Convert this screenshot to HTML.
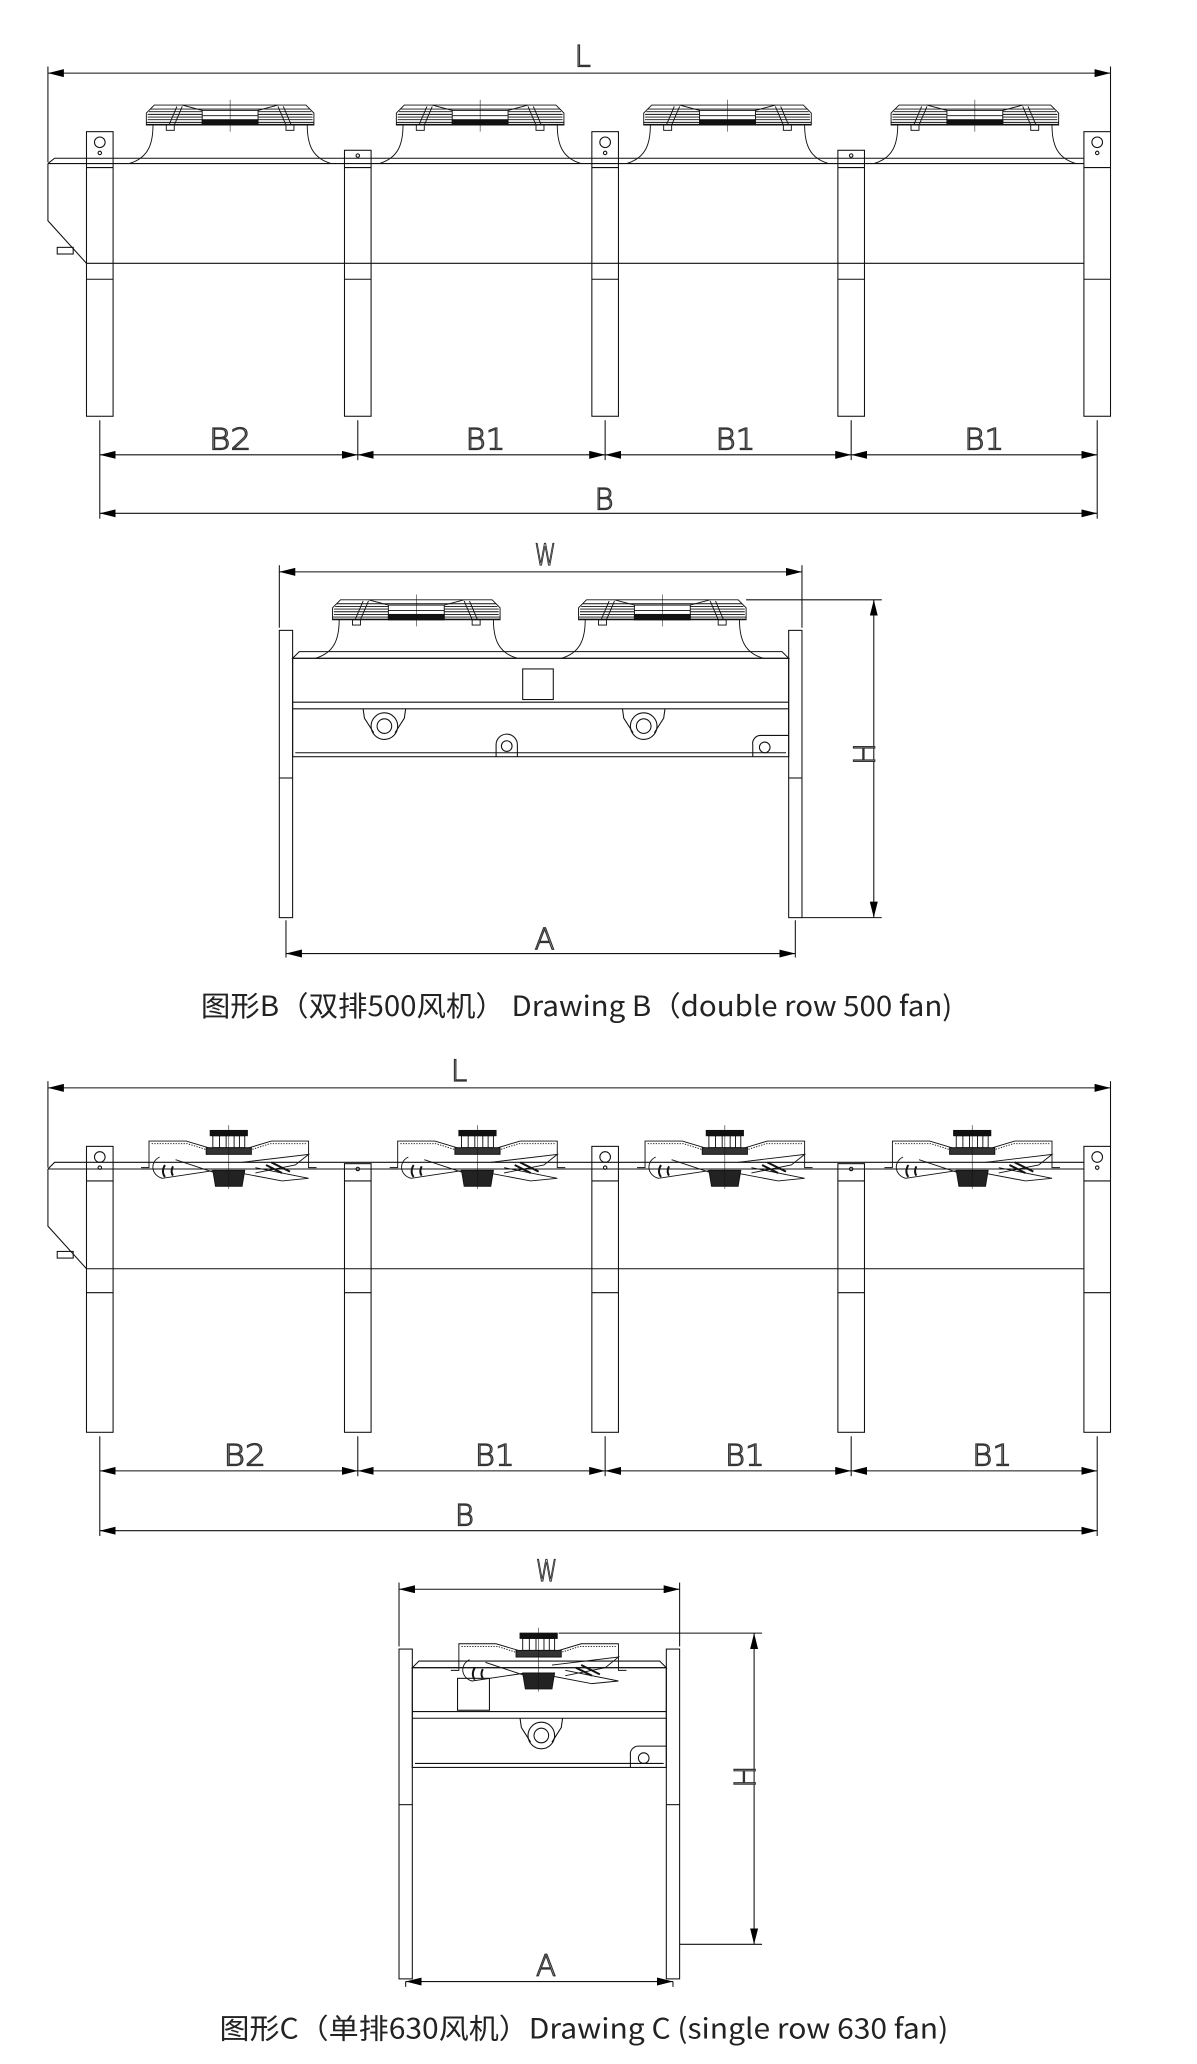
<!DOCTYPE html>
<html><head><meta charset="utf-8"><style>
html,body{margin:0;padding:0;background:#fff;}
svg{display:block;}
text{font-family:"Liberation Sans","Noto Sans CJK SC",sans-serif;fill:#222;}
.c{font-family:"DejaVu Sans","Liberation Sans",sans-serif;font-weight:200;font-size:22px;fill:#fff;stroke:#333;stroke-width:0.9;}
.cap{font-family:"Noto Sans CJK SC","Liberation Sans",sans-serif;font-size:21px;fill:#222;}
</style></head><body>
<svg width="1197" height="2064" viewBox="0 0 900 1552" xmlns="http://www.w3.org/2000/svg">
<defs>
<marker id="ar" viewBox="0 0 12 6" refX="12" refY="3" markerWidth="12" markerHeight="6" orient="auto-start-reverse" markerUnits="userSpaceOnUse"><path d="M0,0 L12,3 L0,6 z" fill="#000"/></marker>
<g id="fan5" fill="none" stroke="#111" stroke-width="0.7">
 <path d="M-63,15 L-63,6 L-57,0 L57,0 L63,6 L63,15 Z"/>
 <line x1="-60" y1="3" x2="60" y2="3"/><line x1="-61" y1="5" x2="61" y2="5"/><line x1="-62" y1="7" x2="62" y2="7"/><line x1="-62" y1="9" x2="62" y2="9"/><line x1="-62" y1="11" x2="62" y2="11"/><line x1="-63" y1="13" x2="63" y2="13"/><line x1="-63" y1="14.5" x2="63" y2="14.5"/>
 <path d="M-21,4 L-36,0 M21,4 L36,0"/>
 <rect x="-21" y="4" width="42" height="11" fill="#fff"/>
 <line x1="-21" y1="8" x2="21" y2="8"/>
 <rect x="-21" y="11" width="42" height="4" fill="#111"/>
 <path d="M-46,15 L-40,1 M-42,15 L-36,1 M46,15 L40,1 M42,15 L36,1"/>
 <rect x="-48" y="15" width="6" height="4"/><rect x="42" y="15" width="6" height="4"/>
 <line x1="0" y1="-4" x2="0" y2="20" stroke-width="0.4"/>
 <path d="M-58,15 C-58,30 -62,40 -76,44 M58,15 C58,30 62,40 76,44"/>
</g>
<g id="fan6" fill="none" stroke="#111" stroke-width="0.7">
 <path d="M-66,28 L-60,28 L-60,8 L-32,8 L-12,14 M12,14 L32,8 L60,8 L60,28 L66,28"/>
 <path d="M-58,10 L-31,10 L-12,16 M12,16 L31,10 L58,10" stroke-dasharray="1,1"/>
 <rect x="-14" y="0" width="28" height="4" fill="#111"/>
 <rect x="-12" y="4" width="24" height="9"/>
 <path d="M-7,4 v9 M-2,4 v9 M4,4 v9 M8,4 v9"/>
 <rect x="-17" y="13" width="34" height="5" fill="#333"/>
 <path d="M-52,20 C-60,24 -58,34 -50,36 L-10,30 M-40,22 L-10,32 L0,40 M10,24 L60,18 L50,26 L20,32 M20,28 L60,36 L40,38 L-2,30"/>
 <path d="M-48,26 q-3,5 0,9 M-42,27 q-2,4 0,7" stroke-width="1.5"/>
 <path d="M28,26 L40,32 M32,24 L46,31" stroke-width="1.5"/>
 <path d="M-12,30 L12,30 L10,42 L-10,42 Z" fill="#222"/>
 <line x1="0" y1="-4" x2="0" y2="44" stroke-width="0.4"/>
</g>
</defs>
<g fill="none" stroke="#111" stroke-width="0.8">
<line x1="36" y1="55" x2="835" y2="55" marker-start="url(#ar)" marker-end="url(#ar)"/>
<line x1="36" y1="50" x2="36" y2="122"/><line x1="835" y1="50" x2="835" y2="99"/>
<path d="M36,123 L41,119 L815,119 M36,123 L815,123 M36,123 L36,166 L65,198 L815,198"/>
<rect x="43" y="186" width="12" height="5"/>
<g>
 <rect x="65" y="99" width="20" height="214"/><line x1="65" y1="126" x2="85" y2="126"/><line x1="65" y1="210" x2="85" y2="210"/><circle cx="75" cy="107" r="4"/><circle cx="75" cy="115" r="1.3"/>
 <rect x="259" y="113" width="20" height="200"/><line x1="259" y1="126" x2="279" y2="126"/><line x1="259" y1="210" x2="279" y2="210"/><circle cx="269" cy="117" r="1.3"/>
 <rect x="445" y="99" width="20" height="214"/><line x1="445" y1="126" x2="465" y2="126"/><line x1="445" y1="210" x2="465" y2="210"/><circle cx="455" cy="107" r="4"/><circle cx="455" cy="115" r="1.3"/>
 <rect x="630" y="113" width="20" height="200"/><line x1="630" y1="126" x2="650" y2="126"/><line x1="630" y1="210" x2="650" y2="210"/><circle cx="640" cy="117" r="1.3"/>
 <rect x="815" y="99" width="20" height="214"/><line x1="815" y1="126" x2="835" y2="126"/><line x1="815" y1="210" x2="835" y2="210"/><circle cx="825" cy="107" r="4"/><circle cx="825" cy="115" r="1.3"/>
</g>
<use href="#fan5" x="173" y="79"/><use href="#fan5" x="361" y="79"/><use href="#fan5" x="547" y="79"/><use href="#fan5" x="733" y="79"/>
<line x1="75" y1="316" x2="75" y2="390"/><line x1="269" y1="316" x2="269" y2="346"/><line x1="455" y1="316" x2="455" y2="346"/><line x1="640" y1="316" x2="640" y2="346"/><line x1="825" y1="316" x2="825" y2="390"/>
<line x1="75" y1="342" x2="269" y2="342" marker-start="url(#ar)" marker-end="url(#ar)"/>
<line x1="269" y1="342" x2="455" y2="342" marker-start="url(#ar)" marker-end="url(#ar)"/>
<line x1="455" y1="342" x2="640" y2="342" marker-start="url(#ar)" marker-end="url(#ar)"/>
<line x1="640" y1="342" x2="825" y2="342" marker-start="url(#ar)" marker-end="url(#ar)"/>
<line x1="75" y1="386" x2="825" y2="386" marker-start="url(#ar)" marker-end="url(#ar)"/>

<line x1="210" y1="430" x2="603" y2="430" marker-start="url(#ar)" marker-end="url(#ar)"/>
<line x1="210" y1="425" x2="210" y2="472"/><line x1="603" y1="425" x2="603" y2="472"/>
<rect x="210" y="474" width="10" height="216"/><line x1="210" y1="585" x2="220" y2="585"/>
<rect x="593" y="474" width="10" height="216"/><line x1="593" y1="585" x2="603" y2="585"/>
<path d="M220,495 L225,490 L588,490 L593,495 Z"/>
<rect x="220" y="495" width="373" height="74"/>
<line x1="220" y1="528" x2="593" y2="528"/><line x1="220" y1="533" x2="593" y2="533"/><line x1="222" y1="566" x2="591" y2="566"/>
<rect x="393" y="503" width="23" height="23"/>
<path d="M273,533 L274,540 L281,551 M305,533 L304,540 L297,551"/><circle cx="289" cy="546" r="10"/><circle cx="289" cy="546" r="5.5"/>
<path d="M468,533 L469,540 L476,551 M500,533 L499,540 L492,551"/><circle cx="484" cy="546" r="10"/><circle cx="484" cy="546" r="5.5"/>
<path d="M373,569 L373,560 A8,8 0 0 1 389,560 L389,569"/><circle cx="381" cy="561" r="4"/>
<path d="M566,569 L566,560 A6,6 0 0 1 572,553 L593,553"/><circle cx="575" cy="562" r="4"/>
<use href="#fan5" x="313" y="451"/><use href="#fan5" x="498" y="451"/>
<line x1="561" y1="451" x2="663" y2="451"/><line x1="603" y1="690" x2="663" y2="690"/>
<line x1="657" y1="451" x2="657" y2="690" marker-start="url(#ar)" marker-end="url(#ar)"/>
<line x1="215" y1="692" x2="215" y2="720"/><line x1="598" y1="692" x2="598" y2="720"/>
<line x1="215" y1="717" x2="598" y2="717" marker-start="url(#ar)" marker-end="url(#ar)"/>

<line x1="36" y1="818" x2="835" y2="818" marker-start="url(#ar)" marker-end="url(#ar)"/>
<line x1="36" y1="813" x2="36" y2="878"/><line x1="835" y1="813" x2="835" y2="862"/>
<path d="M36,879 L41,874 L815,874 M36,879 L815,879 M36,879 L36,922 L65,954 L815,954"/>
<rect x="43" y="941" width="12" height="5"/>
<g>
 <rect x="65" y="862" width="20" height="215"/><line x1="65" y1="888" x2="85" y2="888"/><line x1="65" y1="972" x2="85" y2="972"/><circle cx="75" cy="870" r="4"/><circle cx="75" cy="878" r="1.3"/>
 <rect x="259" y="875" width="20" height="202"/><line x1="259" y1="888" x2="279" y2="888"/><line x1="259" y1="972" x2="279" y2="972"/><circle cx="269" cy="879" r="1.3"/>
 <rect x="445" y="862" width="20" height="215"/><line x1="445" y1="888" x2="465" y2="888"/><line x1="445" y1="972" x2="465" y2="972"/><circle cx="455" cy="870" r="4"/><circle cx="455" cy="878" r="1.3"/>
 <rect x="630" y="875" width="20" height="202"/><line x1="630" y1="888" x2="650" y2="888"/><line x1="630" y1="972" x2="650" y2="972"/><circle cx="640" cy="879" r="1.3"/>
 <rect x="815" y="862" width="20" height="215"/><line x1="815" y1="888" x2="835" y2="888"/><line x1="815" y1="972" x2="835" y2="972"/><circle cx="825" cy="870" r="4"/><circle cx="825" cy="878" r="1.3"/>
</g>
<use href="#fan6" x="172" y="850"/><use href="#fan6" x="359" y="850"/><use href="#fan6" x="545" y="850"/><use href="#fan6" x="731" y="850"/>
<line x1="75" y1="1080" x2="75" y2="1155"/><line x1="269" y1="1080" x2="269" y2="1110"/><line x1="455" y1="1080" x2="455" y2="1110"/><line x1="640" y1="1080" x2="640" y2="1110"/><line x1="825" y1="1080" x2="825" y2="1155"/>
<line x1="75" y1="1106" x2="269" y2="1106" marker-start="url(#ar)" marker-end="url(#ar)"/>
<line x1="269" y1="1106" x2="455" y2="1106" marker-start="url(#ar)" marker-end="url(#ar)"/>
<line x1="455" y1="1106" x2="640" y2="1106" marker-start="url(#ar)" marker-end="url(#ar)"/>
<line x1="640" y1="1106" x2="825" y2="1106" marker-start="url(#ar)" marker-end="url(#ar)"/>
<line x1="75" y1="1151" x2="825" y2="1151" marker-start="url(#ar)" marker-end="url(#ar)"/>

<line x1="300" y1="1195" x2="511" y2="1195" marker-start="url(#ar)" marker-end="url(#ar)"/>
<line x1="300" y1="1190" x2="300" y2="1238"/><line x1="511" y1="1190" x2="511" y2="1238"/>
<rect x="300" y="1240" width="10" height="248"/><line x1="300" y1="1357" x2="310" y2="1357"/>
<rect x="501" y="1240" width="10" height="248"/><line x1="501" y1="1357" x2="511" y2="1357"/>
<path d="M310,1254 L315,1249 L496,1249 L501,1254 Z"/>
<rect x="310" y="1254" width="191" height="75"/>
<line x1="310" y1="1287" x2="501" y2="1287"/><line x1="310" y1="1292" x2="501" y2="1292"/><line x1="312" y1="1326" x2="499" y2="1326"/>
<rect x="344" y="1262" width="24" height="24"/>
<path d="M391,1292 L392,1299 L399,1310 M423,1292 L422,1299 L415,1310"/><circle cx="407" cy="1305" r="10"/><circle cx="407" cy="1305" r="5.5"/>
<path d="M474,1329 L474,1320 A6,6 0 0 1 480,1313 L501,1313"/><circle cx="484" cy="1322" r="4"/>
<use href="#fan6" x="405" y="1228"/>
<line x1="420" y1="1228" x2="573" y2="1228"/><line x1="511" y1="1462" x2="573" y2="1462"/>
<line x1="567" y1="1228" x2="567" y2="1462" marker-start="url(#ar)" marker-end="url(#ar)"/>
<line x1="305" y1="1490" x2="305" y2="1494"/><line x1="506" y1="1490" x2="506" y2="1494"/>
<line x1="305" y1="1490" x2="506" y2="1490" marker-start="url(#ar)" marker-end="url(#ar)"/>
</g>

<g>
<text x="432" y="50" class="c">L</text>
<text x="157" y="338" class="c" textLength="32" lengthAdjust="spacingAndGlyphs">B2</text>
<text x="350" y="338" class="c" textLength="30" lengthAdjust="spacingAndGlyphs">B1</text>
<text x="538" y="338" class="c" textLength="30" lengthAdjust="spacingAndGlyphs">B1</text>
<text x="725" y="338" class="c" textLength="30" lengthAdjust="spacingAndGlyphs">B1</text>
<text x="447" y="383" class="c">B</text>
<text x="402" y="425" class="c" font-size="18" textLength="16" lengthAdjust="spacingAndGlyphs">W</text>
<text x="402" y="714" class="c">A</text>
<text x="0" y="0" class="c" transform="translate(658,567) rotate(-90)" text-anchor="middle">H</text>
<text x="339" y="813" class="c">L</text>
<text x="168" y="1102" class="c" textLength="32" lengthAdjust="spacingAndGlyphs">B2</text>
<text x="357" y="1102" class="c" textLength="30" lengthAdjust="spacingAndGlyphs">B1</text>
<text x="545" y="1102" class="c" textLength="30" lengthAdjust="spacingAndGlyphs">B1</text>
<text x="731" y="1102" class="c" textLength="30" lengthAdjust="spacingAndGlyphs">B1</text>
<text x="342" y="1147" class="c">B</text>
<text x="403" y="1189" class="c" font-size="18" textLength="16" lengthAdjust="spacingAndGlyphs">W</text>
<text x="403" y="1486" class="c">A</text>
<text x="0" y="0" class="c" transform="translate(568,1336) rotate(-90)" text-anchor="middle">H</text>
</g>
<text x="151" y="764" class="cap" textLength="565" lengthAdjust="spacingAndGlyphs">图形B（双排500风机） Drawing B（double row 500 fan)</text>
<text x="165" y="1533" class="cap" textLength="548" lengthAdjust="spacingAndGlyphs">图形C（单排630风机）Drawing C (single row 630 fan)</text>
</svg>
</body></html>
